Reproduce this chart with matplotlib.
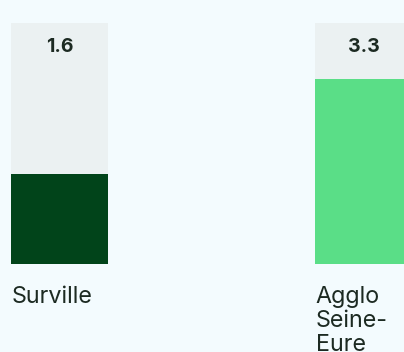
import matplotlib.pyplot as plt
from matplotlib import transforms

plt.rcParams['font.family'] = ['Inter', 'DejaVu Sans']

communes = ['Surville', 'Agglo\nSeine-\nEure']
values = [1.6, 3.3]
scale_max = 4.3
fill_colors = ['#01441a', '#5ade87']

bg = '#f3fbfe'
track = '#ebf1f2'
ink = '#1c2a22'

fig = plt.figure(figsize=(4.04, 3.52), dpi=100, facecolor=bg)
ax = fig.add_axes([0, 0.25, 1, 0.6847])
ax.set_facecolor(bg)

x = list(range(len(communes)))
width = 0.319

ax.bar(x, [scale_max] * len(x), width=width, color=track)
ax.bar(x, values, width=width, color=fill_colors)

ax.set_xlim(-0.1957, 1.1332)
ax.set_ylim(0, scale_max)
ax.axis('off')

for xi, v in zip(x, values):
    ax.annotate(f'{v:.1f}', (xi, scale_max), xytext=(0, -17.5), textcoords='offset points',
                ha='center', va='center', fontsize=14, fontweight='bold', color=ink)

trans = transforms.blended_transform_factory(ax.transData, ax.transAxes)
for xi, name in zip(x, communes):
    ax.annotate(name, (xi - width / 2, 0), xycoords=trans, xytext=(0.5, -15.8),
                textcoords='offset points', ha='left', va='top', fontsize=16.8,
                color=ink, linespacing=1.12)

fig.savefig('out.png', dpi=100, facecolor=bg)
